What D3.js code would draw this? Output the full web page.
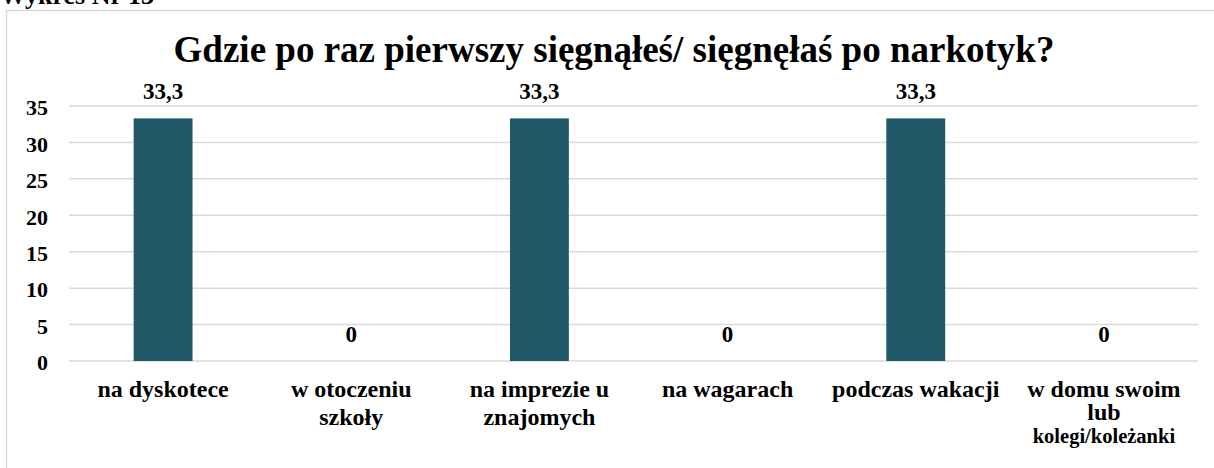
<!DOCTYPE html>
<html>
<head>
<meta charset="utf-8">
<script src="https://cdn.jsdelivr.net/npm/d3@7"></script>
<style>
  body{margin:0;background:#fff;}
</style>
</head>
<body>
<svg id="wykres" width="1214" height="468"></svg>
<script>
// dane z wykresu
var kategorie=["na dyskotece","w otoczeniu szkoły","na imprezie u znajomych","na wagarach","podczas wakacji","w domu swoim lub kolegi/koleżanki"];
var etykiety=[["na dyskotece"],["w otoczeniu","szkoły"],["na imprezie u","znajomych"],["na wagarach"],["podczas wakacji"],["w domu swoim","lub","kolegi/koleżanki"]];
var wartosci=[33.3,0,33.3,0,33.3,0];
var podpisy=["33,3","0","33,3","0","33,3","0"];
var osY=[0,5,10,15,20,25,30,35];

var czcionka="'Liberation Serif','Times New Roman',serif";
var svg=d3.select("#wykres");

// ramka wykresu
svg.append("rect")
  .attr("x",6.5).attr("y",10.5)
  .attr("width",1230).attr("height",480)
  .attr("fill","none")
  .attr("stroke","#d9d9d9")
  .attr("stroke-width",1.5);

svg.append("text")
  .attr("x",0).attr("y",4)
  .style("font-family",czcionka).style("font-weight","bold")
  .style("font-size","26px")
  .text("Wykres Nr 13");

svg.append("text")
  .attr("x",614).attr("y",62)
  .attr("text-anchor","middle")
  .style("font-family",czcionka).style("font-weight","bold")
  .style("font-size","37px")
  .text("Gdzie po raz pierwszy sięgnąłeś/ sięgnęłaś po narkotyk?");

var x=d3.scaleBand()
  .domain(kategorie)
  .range([69,1198])
  .paddingInner(0.687)
  .paddingOuter(0.3435);

var y=d3.scaleLinear()
  .domain([0,35])
  .range([361,106]);

// linie siatki
svg.append("g").selectAll("line")
  .data(osY)
  .enter().append("line")
    .attr("x1",69).attr("x2",1198)
    .attr("y1",function(d){return y(d);})
    .attr("y2",function(d){return y(d);})
    .attr("stroke","#d9d9d9")
    .attr("stroke-width",1.5);

var yAxis=d3.axisLeft(y)
  .tickValues(osY)
  .tickSize(0)
  .tickPadding(21);

var g=svg.append("g").attr("transform","translate(69,0)").call(yAxis);
g.select(".domain").remove();
g.selectAll("text")
  .attr("dy","0.4em")
  .attr("fill","#000")
  .style("font-family",czcionka).style("font-weight","bold")
  .style("font-size","22px");

svg.append("g").selectAll("rect")
  .data(wartosci)
  .enter().append("rect")
    .attr("x",function(d,i){return x(kategorie[i]);})
    .attr("y",function(d){return y(d);})
    .attr("width",x.bandwidth())
    .attr("height",function(d){return y(0)-y(d);})
    .attr("fill","#215968");

svg.append("g").selectAll("text")
  .data(wartosci)
  .enter().append("text")
    .attr("x",function(d,i){return x(kategorie[i])+x.bandwidth()/2;})
    .attr("y",function(d){return y(d)-19;})
    .attr("text-anchor","middle")
    .style("font-family",czcionka).style("font-weight","bold")
    .style("font-size","23px")
    .text(function(d,i){return podpisy[i];});

// podpisy kategorii (trzywierszowe ciaśniej, ostatni wiersz mniejszy)
var kat=svg.append("g").selectAll("text")
  .data(etykiety)
  .enter().append("text")
    .attr("x",function(d,i){return x(kategorie[i])+x.bandwidth()/2;})
    .attr("y",397)
    .attr("text-anchor","middle")
    .style("font-family",czcionka).style("font-weight","bold")
    .style("font-size","24px");

kat.selectAll("tspan")
  .data(function(d){return d.map(function(t){return {t:t,n:d.length};});})
  .enter().append("tspan")
    .attr("x",function(){return d3.select(this.parentNode).attr("x");})
    .attr("dy",function(d,i){return i==0?0:(d.n>2?23:28);})
    .style("font-size",function(d,i){return (d.n>2 && i==2)?"20.5px":null;})
    .text(function(d){return d.t;});
</script>
</body>
</html>
